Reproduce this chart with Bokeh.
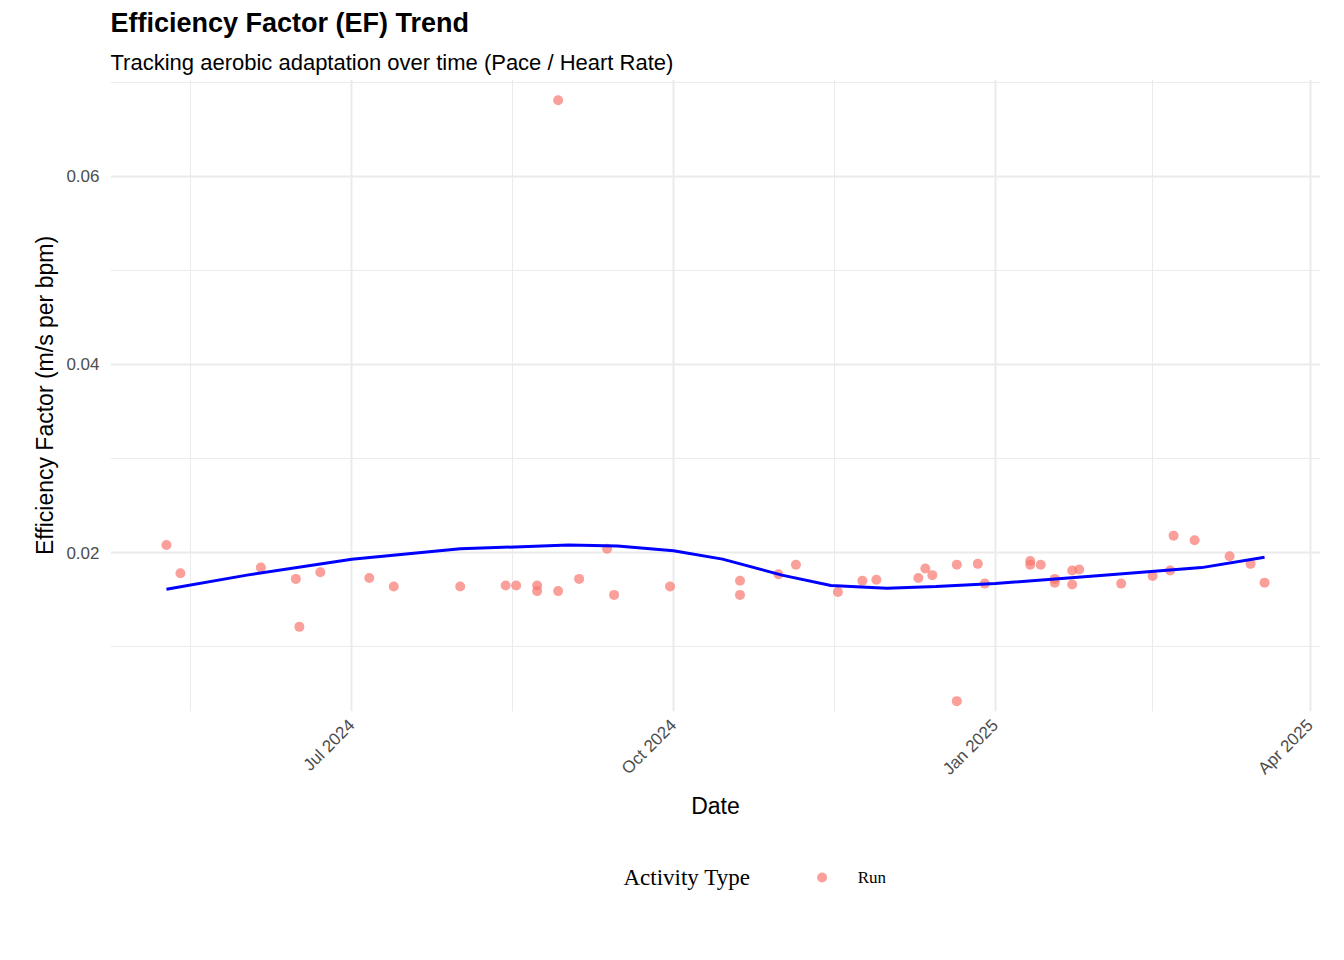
from datetime import datetime
from bokeh.plotting import figure
from bokeh.layouts import column
from bokeh.models import Title, FixedTicker, Range1d
from bokeh.embed import file_html
from bokeh.resources import INLINE

run_dates = ["2024-05-09", "2024-05-13", "2024-06-05", "2024-06-15", "2024-06-16", "2024-06-22",
             "2024-07-06", "2024-07-13", "2024-08-01", "2024-08-14", "2024-08-17", "2024-08-23",
             "2024-08-23", "2024-08-29", "2024-08-29", "2024-09-04", "2024-09-12", "2024-09-14",
             "2024-09-30", "2024-10-20", "2024-10-20", "2024-10-31", "2024-11-05", "2024-11-17",
             "2024-11-24", "2024-11-28", "2024-12-10", "2024-12-12", "2024-12-14", "2024-12-21",
             "2024-12-21", "2024-12-27", "2024-12-29", "2025-01-11", "2025-01-11", "2025-01-14",
             "2025-01-18", "2025-01-18", "2025-01-23", "2025-01-23", "2025-01-25", "2025-02-06",
             "2025-02-15", "2025-02-20", "2025-02-21", "2025-02-27", "2025-03-09", "2025-03-15",
             "2025-03-19"]
run_ef = [0.0208, 0.0178, 0.0184, 0.0172, 0.0121, 0.0179,
          0.0173, 0.0164, 0.0164, 0.0165, 0.0165, 0.0165,
          0.0159, 0.0681, 0.0159, 0.0172, 0.0204, 0.0155,
          0.0164, 0.0170, 0.0155, 0.0177, 0.0187, 0.0158,
          0.0170, 0.0171, 0.0173, 0.0183, 0.0176, 0.0187,
          0.0042, 0.0188, 0.0167, 0.0191, 0.0187, 0.0187,
          0.0172, 0.0168, 0.0181, 0.0166, 0.0182, 0.0167,
          0.0175, 0.0181, 0.0218, 0.0213, 0.0196, 0.0188,
          0.0168]

trend_dates = ["2024-05-09", "2024-06-01", "2024-07-01", "2024-08-01", "2024-09-01", "2024-09-15",
               "2024-10-01", "2024-10-15", "2024-11-01", "2024-11-15", "2024-12-01", "2024-12-15",
               "2025-01-01", "2025-02-01", "2025-03-01", "2025-03-19"]
trend_ef = [0.0161, 0.0176, 0.0193, 0.0204, 0.0208, 0.0207,
            0.0202, 0.0193, 0.0176, 0.0165, 0.0162, 0.0164,
            0.0167, 0.0176, 0.0184, 0.0195]

tick_dates = ["2024-07-01", "2024-10-01", "2025-01-01", "2025-04-01"]
tick_labels = ["Jul 2024", "Oct 2024", "Jan 2025", "Apr 2025"]
minor_dates = ["2024-05-16", "2024-08-16", "2024-11-16", "2025-02-15"]


def ms(s):
    return datetime.strptime(s, "%Y-%m-%d").timestamp() * 1000


xs = [ms(d) for d in run_dates]
txs = [ms(d) for d in trend_dates]
ticks = [ms(d) for d in tick_dates]

p = figure(width=1328, height=822, output_backend="svg", toolbar_location=None,
           title=None, x_range=Range1d(ms("2024-04-23"), ms("2025-04-04")),
           y_range=Range1d(0.0031, 0.0703),
           min_border_left=110, min_border_right=8, min_border_top=5, min_border_bottom=10)
p.outline_line_color = None

sub = Title(text="Tracking aerobic adaptation over time (Pace / Heart Rate)",
            text_font="Liberation Sans", text_font_size="22px", text_font_style="normal",
            text_color="black")
p.add_layout(sub, "above")
main = Title(text="Efficiency Factor (EF) Trend", text_font="Liberation Sans",
             text_font_size="27px", text_font_style="bold", text_color="black")
p.add_layout(main, "above")

p.scatter(xs, run_ef, size=10, color="#F8766D", alpha=0.7, line_color=None)
p.line(txs, trend_ef, line_color="blue", line_width=3)

p.xaxis.ticker = FixedTicker(ticks=ticks)
p.xaxis.major_label_overrides = {t: l for t, l in zip(ticks, tick_labels)}
p.xaxis.major_label_orientation = 0.785
p.xgrid.ticker = FixedTicker(ticks=ticks, minor_ticks=[ms(d) for d in minor_dates])
p.yaxis.ticker = FixedTicker(ticks=[0.02, 0.04, 0.06], minor_ticks=[0.01, 0.03, 0.05, 0.07])
p.ygrid.ticker = FixedTicker(ticks=[0.02, 0.04, 0.06], minor_ticks=[0.01, 0.03, 0.05, 0.07])
for g in (p.xgrid[0], p.ygrid[0]):
    g.grid_line_color = "#EBEBEB"
    g.grid_line_width = 2
    g.minor_grid_line_color = "#EBEBEB"
    g.minor_grid_line_width = 1

p.xaxis.axis_label = "Date"
p.yaxis.axis_label = "Efficiency Factor (m/s per bpm)"
for ax in (p.xaxis[0], p.yaxis[0]):
    ax.axis_line_color = None
    ax.major_tick_line_color = None
    ax.minor_tick_line_color = None
    ax.major_label_text_font = "Liberation Sans"
    ax.major_label_text_font_size = "17px"
    ax.major_label_text_color = "#4D4D4D"
    ax.axis_label_text_font = "Liberation Sans"
    ax.axis_label_text_font_size = "23px"
    ax.axis_label_text_font_style = "normal"
    ax.axis_label_text_color = "black"

# legend strip drawn as its own small figure below the chart
leg = figure(width=1328, height=110, output_backend="svg", toolbar_location=None,
             x_range=Range1d(0, 1328), y_range=Range1d(0, 110), min_border=0)
leg.axis.visible = False
leg.grid.visible = False
leg.outline_line_color = None
leg.text(x=[563], y=[55], text=["Activity Type"], text_font_size="23px",
         text_font="Liberation Sans", text_baseline="middle", text_color="black")
leg.scatter(x=[781], y=[55], size=10, color="#F8766D", alpha=0.7, line_color=None)
leg.text(x=[820], y=[55], text=["Run"], text_font_size="17px",
         text_font="Liberation Sans", text_baseline="middle", text_color="black")

layout = column(p, leg, spacing=0)
open("out.html", "w").write(file_html(layout, INLINE))
